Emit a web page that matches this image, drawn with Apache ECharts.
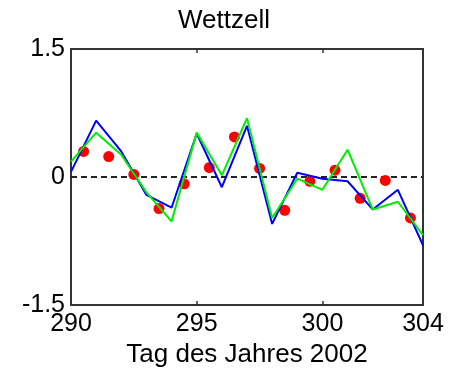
<!DOCTYPE html>
<html>
<head>
<meta charset="utf-8">
<script src="https://cdn.jsdelivr.net/npm/echarts@6/dist/echarts.min.js"></script>
<style>
  html, body { margin: 0; padding: 0; background: #fff; }
  #chart { width: 461px; height: 368px; }
</style>
</head>
<body>
<div id="chart"></div>
<script>
// Daily values for Wettzell, day of year 2002
const days = [290, 291, 292, 293, 294, 295, 296, 297, 298, 299, 300, 301, 302, 303, 304];
const blueValues = [0.06, 0.66, 0.30, -0.21, -0.36, 0.51, -0.12, 0.60, -0.55, 0.05, -0.02, -0.05, -0.38, -0.15, -0.80];
const greenValues = [0.18, 0.52, 0.26, -0.18, -0.52, 0.52, 0.02, 0.69, -0.48, -0.02, -0.15, 0.32, -0.38, -0.29, -0.68];

// Observed points, at mid-day
const dotDays = [290.5, 291.5, 292.5, 293.5, 294.5, 295.5, 296.5, 297.5, 298.5, 299.5, 300.5, 301.5, 302.5, 303.5];
const dotValues = [0.30, 0.24, 0.03, -0.37, -0.08, 0.11, 0.47, 0.10, -0.39, -0.05, 0.08, -0.25, -0.04, -0.48];

const xLabelValues = [290, 295, 300, 304];
const xTickValues = [295, 300];
const yLabelValues = [-1.5, 0, 1.5];

const font = '"Liberation Sans", Arial, sans-serif';
const axisColor = '#333';

const pairs = (xs, ys) => xs.map((x, i) => [x, ys[i]]);

const chart = echarts.init(document.getElementById('chart'), null, { renderer: 'canvas' });
chart.setOption({
  animation: false,
  backgroundColor: '#fff',
  title: {
    text: 'Wettzell',
    left: 173,
    top: 3,
    textStyle: { fontFamily: font, fontSize: 26, fontWeight: 'normal', color: '#000' }
  },
  grid: { left: 71, right: 38, top: 49, bottom: 63, outerBoundsMode: 'none', containLabel: false },
  xAxis: [{
    type: 'value', min: 290, max: 304, position: 'bottom',
    name: 'Tag des Jahres 2002', nameLocation: 'middle', nameGap: 35,
    nameTextStyle: { fontFamily: font, fontSize: 26, color: '#000' },
    axisLine: { show: true, onZero: false, lineStyle: { color: axisColor, width: 2 } },
    axisTick: { show: true, inside: true, length: 4, customValues: xTickValues, lineStyle: { color: axisColor, width: 1.5 } },
    axisLabel: { customValues: xLabelValues, margin: 7, fontFamily: font, fontSize: 25, color: '#000', showMinLabel: true, showMaxLabel: true },
    splitLine: { show: false }
  }, {
    type: 'value', min: 290, max: 304, position: 'top',
    axisLine: { show: true, onZero: false, lineStyle: { color: axisColor, width: 2 } },
    axisTick: { show: true, inside: true, length: 4, customValues: xTickValues, lineStyle: { color: axisColor, width: 1.5 } },
    axisLabel: { show: false },
    splitLine: { show: false }
  }],
  yAxis: [{
    type: 'value', min: -1.5, max: 1.5, interval: 1.5, position: 'left',
    axisLine: { show: true, onZero: false, lineStyle: { color: axisColor, width: 2 } },
    axisTick: { show: false },
    axisLabel: {
      customValues: yLabelValues, margin: 6, fontFamily: font, fontSize: 25, color: '#000',
      formatter: v => (v === 0 ? '0' : String(v))
    },
    splitLine: { show: false }
  }, {
    type: 'value', min: -1.5, max: 1.5, interval: 1.5, position: 'right',
    axisLine: { show: true, onZero: false, lineStyle: { color: axisColor, width: 2 } },
    axisTick: { show: false },
    axisLabel: { show: false },
    splitLine: { show: false }
  }],
  series: [{
    type: 'line', name: 'zero', data: [[290, 0], [304, 0]],
    symbol: 'none', silent: true,
    lineStyle: { color: '#222', width: 1.8, type: [6, 4] },
    z: 1
  }, {
    type: 'scatter', name: 'obs', data: pairs(dotDays, dotValues),
    symbol: 'circle', symbolSize: 11,
    itemStyle: { color: '#ff0000', opacity: 1 },
    z: 2
  }, {
    type: 'line', name: 'blue', data: pairs(days, blueValues),
    symbol: 'none',
    lineStyle: { color: '#0000ff', width: 2 },
    z: 3
  }, {
    type: 'line', name: 'green', data: pairs(days, greenValues),
    symbol: 'none',
    lineStyle: { color: '#00ee00', width: 2 },
    z: 4
  }]
});
</script>
</body>
</html>
